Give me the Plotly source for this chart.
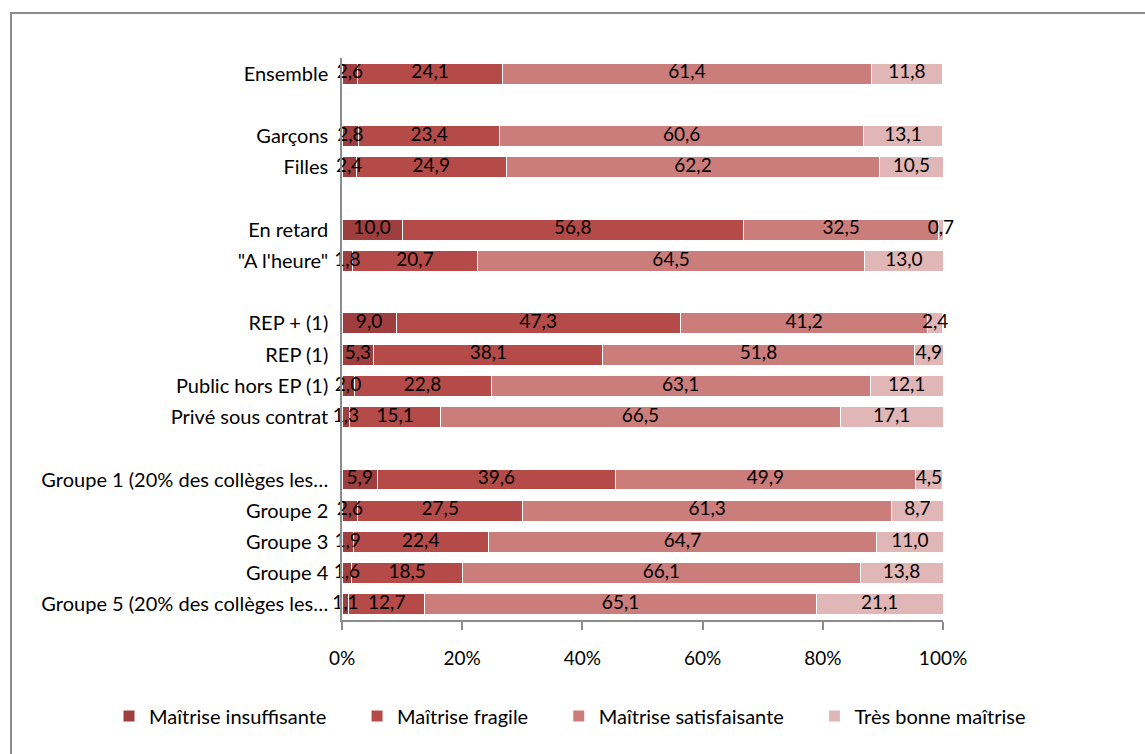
import plotly.graph_objects as go

# Row labels (spacer rows are blank strings of distinct length)
categories = [
    "Ensemble", " ",
    "Garçons", "Filles", "  ",
    "En retard", "\"A l'heure\"", "   ",
    "REP + (1)", "REP (1)", "Public hors EP (1)", "Privé sous contrat", "    ",
    "Groupe 1 (20% des collèges les…", "Groupe 2", "Groupe 3", "Groupe 4",
    "Groupe 5 (20% des collèges les…",
]

insuffisante = [2.6, None, 2.8, 2.4, None, 10.0, 1.8, None, 9.0, 5.3, 2.0, 1.3, None, 5.9, 2.6, 1.9, 1.6, 1.1]
fragile = [24.1, None, 23.4, 24.9, None, 56.8, 20.7, None, 47.3, 38.1, 22.8, 15.1, None, 39.6, 27.5, 22.4, 18.5, 12.7]
satisfaisante = [61.4, None, 60.6, 62.2, None, 32.5, 64.5, None, 41.2, 51.8, 63.1, 66.5, None, 49.9, 61.3, 64.7, 66.1, 65.1]
tres_bonne = [11.8, None, 13.1, 10.5, None, 0.7, 13.0, None, 2.4, 4.9, 12.1, 17.1, None, 4.5, 8.7, 11.0, 13.8, 21.1]

series_names = ["Maîtrise insuffisante", "Maîtrise fragile", "Maîtrise satisfaisante", "Très bonne maîtrise"]
series_values = [insuffisante, fragile, satisfaisante, tres_bonne]
series_colors = ["#9E3E3E", "#B44B48", "#CB7D7B", "#E0B6B6"]

x_tick_vals = [0, 20, 40, 60, 80, 100]
x_tick_text = ["0%", "20%", "40%", "60%", "80%", "100%"]

FONT = "Lato"
PAD = "\u00a0" * 5  # extra spacing between legend entries

fig = go.Figure()
for k, (name, vals, col) in enumerate(zip(series_names, series_values, series_colors)):
    fig.add_trace(go.Bar(
        y=categories, x=vals, name=name + (PAD if k < len(series_names) - 1 else ""),
        orientation="h",
        marker=dict(color=col, line=dict(color="white", width=1)),
        hovertemplate=name + ": %{x}<extra></extra>",
    ))

# data labels centred in each segment
base = [0.0 if v is not None else None for v in insuffisante]
for vals in series_values:
    lx, ly, lt = [], [], []
    for i, v in enumerate(vals):
        if v is None:
            continue
        lx.append(base[i] + v / 2)
        ly.append(categories[i])
        lt.append(f"{v:.1f}".replace(".", ","))
        base[i] += v
    fig.add_trace(go.Scatter(
        x=lx, y=ly, text=lt, mode="text", showlegend=False, hoverinfo="skip",
        textfont=dict(color="black", size=19, family=FONT), cliponaxis=False,
    ))

W, H = 1145, 754
L, R, T, B = 342, 202, 58, 134
pw, ph = W - L - R, H - T - B

def px_x(p):
    return (p - L) / pw

def px_y(p):
    return (H - B - p) / ph

fig.update_layout(
    width=W, height=H, barmode="stack", bargap=0.33,
    margin=dict(l=L, r=R, t=T, b=B),
    paper_bgcolor="white", plot_bgcolor="white",
    font=dict(family=FONT, size=20, color="black"),
    showlegend=True,
    legend=dict(orientation="h", x=px_x(109), xanchor="left", y=px_y(716), yanchor="middle",
                font=dict(size=20, family=FONT), traceorder="normal", borderwidth=0),
    xaxis=dict(range=[0, 100], tickvals=x_tick_vals, ticktext=x_tick_text, showgrid=False, zeroline=False,
               showline=True, linecolor="#8C8C8C", linewidth=1.5, ticks="outside", ticklen=8,
               tickcolor="#8C8C8C", tickwidth=1.5, tickfont=dict(size=19), ticklabelstandoff=12),
    yaxis=dict(range=[len(categories) - 0.5, -0.5], autorange=False, type="category",
               showgrid=False, showline=True,
               linecolor="#8C8C8C", linewidth=1.5, ticks="", tickfont=dict(size=20),
               categoryorder="array", categoryarray=categories, ticklabelstandoff=8),
    shapes=[dict(type="rect", xref="paper", yref="paper",
                 x0=px_x(11), x1=px_x(1160), y0=px_y(770), y1=px_y(13),
                 line=dict(color="#8C8C8C", width=2), fillcolor="rgba(0,0,0,0)", layer="below")],
)

fig.write_html("out.html")
